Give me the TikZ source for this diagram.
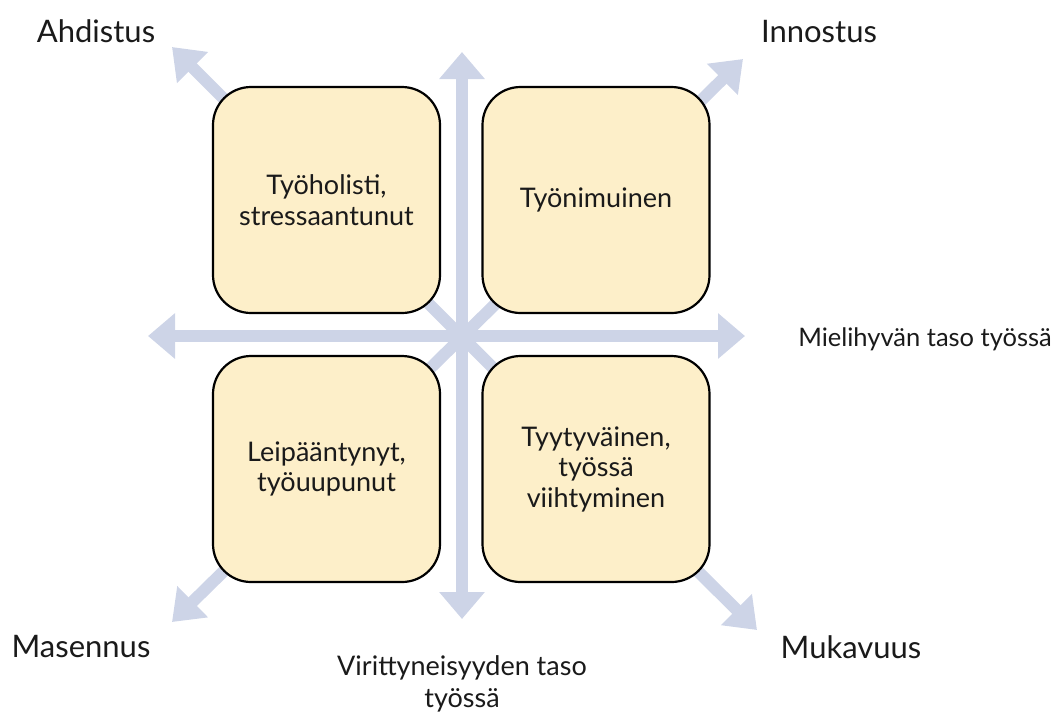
\documentclass[tikz,border=0pt]{standalone}
\usepackage{fontspec}
\setmainfont{Lato}
\usetikzlibrary{arrows.meta}
\definecolor{arrowc}{HTML}{CDD4E7}
\definecolor{boxfill}{HTML}{FDEFC9}
\definecolor{txt}{HTML}{1A1A1A}
\tikzset{
  axis2/.style={draw=arrowc, line width=12pt, {Triangle[length=27pt,width=44pt]}-{Triangle[length=27pt,width=44pt]}},
  diag/.style={draw=arrowc, line width=12pt, -{Triangle[length=29pt,width=42pt]}},
  quad/.style={draw=black, line width=2.2pt, fill=boxfill, rounded corners=38pt,
    minimum width=227pt, minimum height=226pt, align=center, text=txt,
    font=\fontsize{27}{30.5}\selectfont},
  corner/.style={anchor=base, text=txt, font=\fontsize{31}{36}\selectfont, inner sep=0pt},
  axlabel/.style={text=txt, font=\fontsize{25.5}{29}\selectfont, align=center, inner sep=0pt}
}
\begin{document}
\begin{tikzpicture}[x=1pt,y=-1pt]
\useasboundingbox (0,0) rectangle (1056,716);
\coordinate (c) at (462,337);
\coordinate (tl) at (172,47);
\coordinate (tr) at (743,59);
\coordinate (bl) at (172,622);
\coordinate (br) at (757,630);
\coordinate (top) at (462,52);
\coordinate (bot) at (462,619);
\coordinate (left) at (148,336);
\coordinate (right) at (745,336);
% diagonal arrows
\draw[diag] (c) -- (tl);
\draw[diag] (c) -- (tr);
\draw[diag] (c) -- (bl);
\draw[diag] (c) -- (br);
% boxes
\node[quad] (q1) at (326.5,200) {Työholisti,\\stressaantunut};
\node[quad] (q2) at (596,200) {Työnimuinen};
\node[quad] (q3) at (326.5,469) {Leipääntynyt,\\työuupunut};
\node[quad] (q4) at (596,469) {Tyytyväinen,\\työssä\\viihtyminen};
% main axes
\draw[axis2] (bot) -- (top);
\draw[axis2] (left) -- (right);
% labels
\node[corner] (l1) at (96,42) {Ahdistus};
\node[corner] (l2) at (819,42) {Innostus};
\node[corner] (l3) at (81,657) {Masennus};
\node[corner] (l4) at (851,658) {Mukavuus};
\node[axlabel, anchor=base east] (lx) at (1052,346) {Mielihyvän taso työssä};
\node[axlabel, anchor=north, font=\fontsize{27}{32}\selectfont] (ly) at (462,655) {Virittyneisyyden taso\\työssä};
\end{tikzpicture}
\end{document}
